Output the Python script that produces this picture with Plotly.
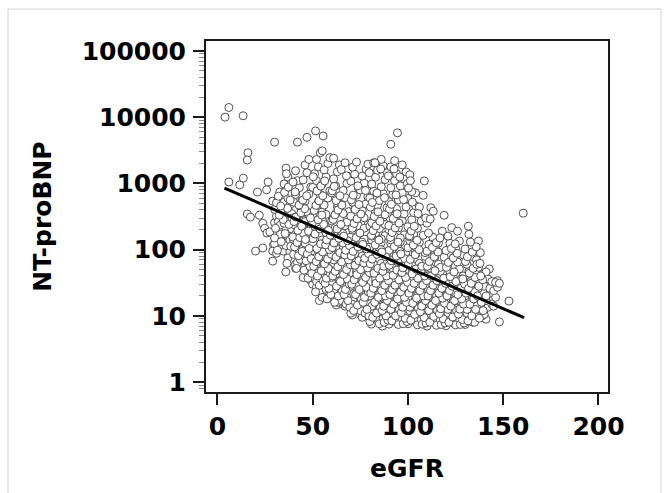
import plotly.graph_objects as go

# Sparse points
egfr_sparse = [4,6,13.5,30,42,47,51.5,55.5,94.5,91,108.6,160.5,16,15.7,6,11.7,13.6,21,26.6,25.8,
               15.7,17.3,22,23.8,24.8,26,27.5,29,32,32.7,40.4,41,20,23.8,29.4,29,29,34.6,38,37,
               35.9,41,41,43,47.7,49.8,54,53.5,62.4,65.6,70.8,80.8,86.6,141,148,153,147,142.7,131.7,104]
nt_sparse = [10000,14000,10500,4200,4200,4950,6200,5200,5800,3900,1090,355,2900,2250,1050,950,1200,740,1050,800,
             345,310,330,250,210,178,185,540,600,740,580,710,95,106,118,95,67,95,92,75,
             46,52,60,80,51,43,24,17,14.6,15,10.3,7.5,7,8.9,8.1,16.7,34,51,226,720]

egfr_30 = [30,31,33,32,30,34,31,33,30,32,34,31,33,30,32]
nt_30 = [122,88,145,205,255,118,320,170,405,265,380,510,235,150,640]
egfr_35 = [35,37,36,39,38,35,36,38,37,39,35,37,36,38,39,35,37,36]
nt_35 = [130,160,115,205,140,250,320,270,400,350,520,600,780,470,690,980,1250,1700]
egfr_40 = [40,42,41,44,43,40,41,43,42,44,40,42,41,43,44,40,42,41,43,44,42,41]
nt_40 = [85,64,108,72,90,135,170,145,215,190,240,125,310,175,400,520,270,680,860,350,1100,1550]
egfr_45 = [45,47,46,49,48,45,47,46,48,49,45,47,46,48,49,45,46,47,48,49,45,47,46,48]
nt_45 = [38,46,58,34,60,78,96,125,55,150,205,165,265,330,240,420,540,370,690,880,1130,1450,1900,2300]
egfr_50 = [50,52,51,54,53,50,51,53,52,54,50,52,51,53,54,50,52,51,53,54,50,52,51,53,52,54]
nt_50 = [30,27,36,24,45,58,75,95,33,120,155,70,200,250,110,320,410,180,530,680,870,1100,1400,1780,2300,2900]
egfr_55 = [55,57,56,59,58,55,57,56,58,59,55,57,56,58,59,55,57,56,58,59,55,57,56,58,59,55,57,56]
nt_55 = [19,25,32,22,41,52,66,85,46,108,140,180,125,230,290,370,210,470,600,770,980,1250,1600,2000,2450,3100,340,60]
egfr_60 = [60,62,61,64,63,60,62,61,63,64,60,62,61,63,64,60,61,62,63,64,60,62,61,63,64,61,63,60]
nt_60 = [19,18,23,30,16,38,48,62,79,34,100,128,70,165,210,270,150,345,440,560,720,920,1170,1500,1900,2400,500,105]
egfr_65 = [65,67,66,69,68,65,67,66,68,69,65,67,66,68,69,65,67,66,68,69,65,67,66,68,69,65,67,68,66]
nt_65 = [17,14,21,27,19,34,43,55,24,70,88,38,112,142,80,180,230,125,295,375,480,610,780,1000,1270,1620,2050,260,350]
egfr_70 = [70,72,71,74,73,70,72,71,73,74,70,72,71,73,74,70,72,71,73,74,70,72,71,73,74,70,72,71,73,74]
nt_70 = [11,13.5,17,12,22,28,36,15,46,59,31,75,95,52,122,155,86,198,252,140,320,410,520,665,850,1080,1380,1760,2100,230]
egfr_75 = [75,77,76,79,78,75,77,76,78,79,75,77,76,78,79,75,77,76,78,79,75,77,76,78,79,75,77,76,78,79,77]
nt_75 = [10.5,13,9.5,16.5,21,12,27,34,19,43,55,30,70,90,49,115,146,80,186,237,130,302,385,490,625,795,1010,1290,1640,1950,210]
egfr_80 = [80,82,81,84,83,80,82,81,83,84,80,82,81,83,84,80,82,81,83,84,80,82,81,83,84,80,82,81,83,84,82,81]
nt_80 = [8.2,10,12.5,9,16,20,26,14,33,42,23,54,68,37,87,110,60,140,178,98,227,290,160,370,470,600,765,975,1240,1580,2050,255]
egfr_85 = [85,87,86,89,88,85,87,86,88,89,85,87,86,88,89,85,87,86,88,89,85,87,86,88,89,85,87,86,88,89,87,86,88]
nt_85 = [7.6,9.2,11.5,8.4,14.5,18.5,24,13,30,38,21,49,62,34,79,100,55,128,163,90,208,265,145,338,430,550,700,890,1140,1450,1850,2300,240]
egfr_90 = [90,92,91,94,93,90,92,91,93,94,90,92,91,93,94,90,92,91,93,94,90,92,91,93,94,90,92,91,93,94,91,93,90]
nt_90 = [7.5,8.8,11,8,14,17.5,22.5,12.5,29,37,20,47,60,33,76,97,53,124,158,87,200,255,140,325,415,530,675,860,1100,1400,1780,2200,230]
egfr_95 = [95,97,96,99,98,95,97,96,98,99,95,97,96,98,99,95,97,96,98,99,95,97,96,98,99,95,97,96,98,99,97]
nt_95 = [7.4,9,11.5,8.2,14.5,18.5,24,13,31,39,21,50,64,35,81,103,56,131,167,92,213,272,150,347,442,564,720,918,1170,1490,1900]
egfr_100 = [100,102,101,104,103,100,102,101,103,104,100,102,101,103,104,100,102,101,103,104,100,102,101,103,104,100,102,101]
nt_100 = [7.6,9.2,12,8.3,15,19,25,13.5,32,41,22,52,66,36,84,107,58,136,173,95,222,283,156,362,460,590,750,1350]
egfr_105 = [105,107,106,109,108,105,107,106,108,109,105,107,106,108,109,105,107,106,108,109,105,107,106,108]
nt_105 = [7.3,8.8,11,8,14,18,23,12.5,30,38,20,48,62,34,79,100,55,128,164,90,210,270,440,660]
egfr_110 = [110,112,111,114,113,110,112,111,113,114,110,112,111,113,114,110,112,111,113,114,110,112]
nt_110 = [7,8.6,11,7.8,14,17.5,22,12,28,36,19.5,46,58,32,75,95,52,120,155,85,250,430]
egfr_115 = [115,117,116,119,118,115,117,116,118,119,115,117,116,118,119,115,117,116,118,119]
nt_115 = [7.2,8.7,11,7.6,14,18,23,12.5,29,37,20,47,60,33,77,98,54,125,190,330]
egfr_120 = [120,122,121,124,123,120,122,121,123,124,120,122,121,123,124,120,122,121,123]
nt_120 = [7.1,8.6,11,7.7,14,18,23,12.5,29,37,20,47,60,33,76,97,125,160,215]
egfr_125 = [125,127,126,129,128,125,127,126,128,129,125,127,126,128,129,125,127,126]
nt_125 = [7.3,9,11.5,8,14.5,18.5,24,13,31,40,22,51,65,36,83,105,135,190]
egfr_130 = [130,132,131,134,133,130,132,131,133,134,130,132,131,133,134,130,132]
nt_130 = [7.4,8.8,11,8,14,18,23,12.5,29,37,20,47,60,33,78,102,170]
egfr_135 = [135,137,136,139,138,135,137,136,138,139,135,137,136,138,137]
nt_135 = [8,9.8,12.5,10,16,20,26,14,33,42,23,54,70,90,135]
egfr_140 = [140,142,141,144,143,140,142,141,143,144,141]
nt_140 = [10.5,13.5,17,15,22,28,36,20,26,33,46]
egfr_145 = [145,146,145,147,146,148]
nt_145 = [14,19,24,27,32,31]

# Second layer: points between the columns above
egfr_f30 = [36.5,31.5,38.5,33.5,39.5,35.5,30.5,37.5,34.5,32.5,39.2,36.8,33.2,38.2,35.2,37.2,39.7,36.2]
nt_f30 = [62,98,112,132,155,175,210,240,285,330,300,420,455,560,730,880,1050,1400]
egfr_f40 = [41.5,47.5,43.5,49.5,45.5,42.5,48.5,44.5,46.5,40.5,41.8,47.2,43.2,49.2,45.2,42.2,48.2,44.2,46.2,40.2,
            41.2,47.8,43.8,49.8,45.8,42.8,48.8,44.8,46.8,40.8]
nt_f40 = [52,37,71,44,49,81,56,94,68,110,128,86,152,73,175,195,104,226,142,265,310,190,360,248,415,470,300,560,650,745]
egfr_f50 = [51.5,57.5,53.5,59.5,55.5,52.5,58.5,54.5,56.5,50.5,51.8,57.2,53.2,59.2,55.2,52.2,58.2,54.2,56.2,50.2,
            51.2,57.8,53.8,59.8,55.8,52.8,58.8,54.8,56.8,50.8,51.7,57.3,53.3,59.3,55.3,52.3,58.3,54.3,56.3,50.3]
nt_f50 = [23,18,29,21,34,40,26,48,31,56,66,37,78,44,92,104,52,122,61,146,172,72,205,85,240,282,100,332,118,390,
          465,140,545,165,650,770,195,910,1090,1260]
egfr_f60 = [61.5,67.5,63.5,69.5,65.5,62.5,68.5,64.5,66.5,60.5,61.8,67.2,63.2,69.2,65.2,62.2,68.2,64.2,66.2,60.2,61.2,
            67.8,63.8,69.8,65.8,62.8,68.8,64.8,66.8,60.8,61.7,67.3,63.3,69.3,65.3,62.3,68.3,64.3,66.3,60.3,61.3,67.7]
nt_f60 = [16,15,20,13.5,24,28,17,33,21,40,47,25,55,30,65,77,36,90,42,107,126,50,148,59,175,205,70,240,83,285,
          335,98,395,115,470,550,136,650,160,770,900,1300]
egfr_f70 = [71.5,77.5,73.5,79.5,75.5,72.5,78.5,74.5,76.5,70.5,71.8,77.2,73.2,79.2,75.2,72.2,78.2,74.2,76.2,70.2,71.2,77.8,
            73.8,79.8,75.8,72.8,78.8,74.8,76.8,70.8,71.7,77.3,73.3,79.3,75.3,72.3,78.3,74.3,76.3,70.3,71.3,77.7,73.7,79.7]
nt_f70 = [12,11,14.5,10,18,21,12.5,25,16,30,35,19,42,23,50,58,27,68,32,80,94,38,110,45,130,152,53,178,63,210,
          248,74,292,87,345,405,103,480,120,565,665,780,920,1450]
egfr_f80 = [81.5,87.5,83.5,89.5,85.5,82.5,88.5,84.5,86.5,80.5,81.8,87.2,83.2,89.2,85.2,82.2,88.2,84.2,86.2,80.2,81.2,87.8,83.8,
            89.8,85.8,82.8,88.8,84.8,86.8,80.8,81.7,87.3,83.3,89.3,85.3,82.3,88.3,84.3,86.3,80.3,81.3,87.7,83.7,89.7,85.7,82.7]
nt_f80 = [9.5,8,11,8.6,13.5,16,10,19,12,22,26,14,31,17,37,44,20,52,24,61,72,29,85,34,100,118,40,139,47,164,
          193,56,228,66,268,316,78,372,92,438,516,608,716,1300,1650,2050]
egfr_f90 = [91.5,97.5,93.5,99.5,95.5,92.5,98.5,94.5,96.5,90.5,91.8,97.2,93.2,99.2,95.2,92.2,98.2,94.2,96.2,90.2,91.2,97.8,93.8,
            99.8,95.8,92.8,98.8,94.8,96.8,90.8,91.7,97.3,93.3,99.3,95.3,92.3,98.3,94.3,96.3,90.3,91.3,97.7,93.7,99.7,95.7,92.7]
nt_f90 = [8.4,7.6,10,8.2,12.5,15,9.2,18,11.2,21,25,13.5,29,16,35,41,19,49,23,58,68,27,80,32,94,111,38,130,45,153,
          181,53,213,62,251,296,73,348,86,410,483,569,670,1000,1250,1650]
egfr_f100 = [101.5,107.5,103.5,109.5,105.5,102.5,108.5,104.5,106.5,100.5,101.8,107.2,103.2,109.2,105.2,102.2,108.2,104.2,106.2,100.2,
             101.2,107.8,103.8,109.8,105.8,102.8,108.8,104.8,106.8,100.8,101.7,107.3,103.3,109.3,105.3,102.3,100.3,101.3]
nt_f100 = [8.6,7.5,10.5,7.8,13,15.5,9.4,18.5,11.5,22,26,14,31,17,37,43,20,51,24,60,71,29,84,34,100,117,40,138,47,162,
           191,56,225,300,350,520,850,1100]
egfr_f110 = [111.5,117.5,113.5,119.5,115.5,112.5,118.5,114.5,116.5,110.5,111.8,117.2,113.2,119.2,115.2,112.2,118.2,114.2,116.2,110.2,
             111.2,117.8,113.8,119.8,115.8,112.8,118.8,114.8,116.8,110.8,111.7,113.3]
nt_f110 = [8,7.4,9.8,7.8,12,14.5,9,17,10.8,20,24,12.8,29,15.5,34,40,18.5,48,22,56,66,26,78,31,92,108,37,128,150,178,290,380]
egfr_f120 = [121.5,127.5,123.5,129.5,125.5,122.5,128.5,124.5,126.5,120.5,121.8,127.2,123.2,129.2,125.2,122.2,128.2,124.2,126.2,120.2,
             121.2,127.8,123.8,129.8,125.8,122.8,128.8,124.8]
nt_f120 = [8,7.4,9.6,7.8,12,14,8.8,17,10.6,20,24,12.6,28,15,33,39,18,46,21,54,64,26,75,30,88,104,36,122]
egfr_f130 = [131.5,137.5,133.5,139.5,135.5,132.5,138.5,134.5,136.5,130.5,131.8,137.2,133.2,139.2,135.2,132.2,138.2,134.2,136.2,130.2,
             131.2,137.8,133.8,135.8,132.8]
nt_f130 = [8.4,9.2,10,12,12.5,15,16,18,20,22,26,28,31,35,38,44,40,52,60,66,78,62,92,110,130]

bands = [(egfr_sparse, nt_sparse),(egfr_30,nt_30),(egfr_35,nt_35),(egfr_40,nt_40),(egfr_45,nt_45),
         (egfr_50,nt_50),(egfr_55,nt_55),(egfr_60,nt_60),(egfr_65,nt_65),(egfr_70,nt_70),(egfr_75,nt_75),
         (egfr_80,nt_80),(egfr_85,nt_85),(egfr_90,nt_90),(egfr_95,nt_95),(egfr_100,nt_100),(egfr_105,nt_105),
         (egfr_110,nt_110),(egfr_115,nt_115),(egfr_120,nt_120),(egfr_125,nt_125),(egfr_130,nt_130),
         (egfr_135,nt_135),(egfr_140,nt_140),(egfr_145,nt_145),
         (egfr_f30,nt_f30),(egfr_f40,nt_f40),(egfr_f50,nt_f50),(egfr_f60,nt_f60),(egfr_f70,nt_f70),
         (egfr_f80,nt_f80),(egfr_f90,nt_f90),(egfr_f100,nt_f100),(egfr_f110,nt_f110),(egfr_f120,nt_f120),
         (egfr_f130,nt_f130)]

fit_egfr = [3.7, 161]
fit_nt = [851, 9.36]
x_ticks = [0, 50, 100, 150, 200]
y_ticks = [1, 10, 100, 1000, 10000, 100000]
y_labels = ["1", "10", "100", "1000", "10000", "100000"]

FONT = "DejaVu Sans"
fig = go.Figure()
for xs, ys in bands:
    fig.add_trace(go.Scatter(x=xs, y=ys, mode="markers", showlegend=False,
                             marker=dict(symbol="circle", size=8, color="white",
                                         line=dict(color="#505050", width=1))))
fig.add_trace(go.Scatter(x=fit_egfr, y=fit_nt, mode="lines", showlegend=False,
                         line=dict(color="black", width=3)))

fig.update_layout(
    width=664, height=493, autosize=False,
    margin=dict(l=206, r=56, t=41, b=101),
    paper_bgcolor="white", plot_bgcolor="white",
    font=dict(family=FONT, size=25, color="black"),
    shapes=[dict(type="rect", xref="paper", yref="paper", layer="below",
                 x0=-0.4925, x1=1.132, y0=-0.35, y1=1.091,
                 line=dict(color="#d4d4d4", width=1), fillcolor="white")],
)
fig.update_xaxes(
    range=[-6, 205], tickmode="array", tickvals=x_ticks, ticks="outside",
    ticklen=11, tickwidth=2, tickcolor="#1a1a1a", showgrid=False, zeroline=False,
    showline=True, linecolor="#1a1a1a", linewidth=2, mirror=True,
    tickfont=dict(family=FONT, size=25, weight="bold"),
    title=dict(text="eGFR", font=dict(family=FONT, size=25, weight="bold"), standoff=19),
)
fig.update_yaxes(
    type="log", range=[-0.15, 5.15], tickmode="array", tickvals=y_ticks, ticktext=y_labels,
    ticks="outside", ticklen=11, tickwidth=2, tickcolor="#1a1a1a", showgrid=False, zeroline=False,
    showline=True, linecolor="#1a1a1a", linewidth=2, mirror=True, ticklabelstandoff=2,
    minor=dict(ticks="outside", ticklen=5, tickwidth=1, tickcolor="#888888", dtick="D1", showgrid=False),
    tickfont=dict(family=FONT, size=25, weight="bold"),
    title=dict(text="NT-proBNP", font=dict(family=FONT, size=25, weight="bold"), standoff=23),
)
fig.write_html("out.html", post_script="document.body.style.margin='0';",
               config=dict(displayModeBar=False))
